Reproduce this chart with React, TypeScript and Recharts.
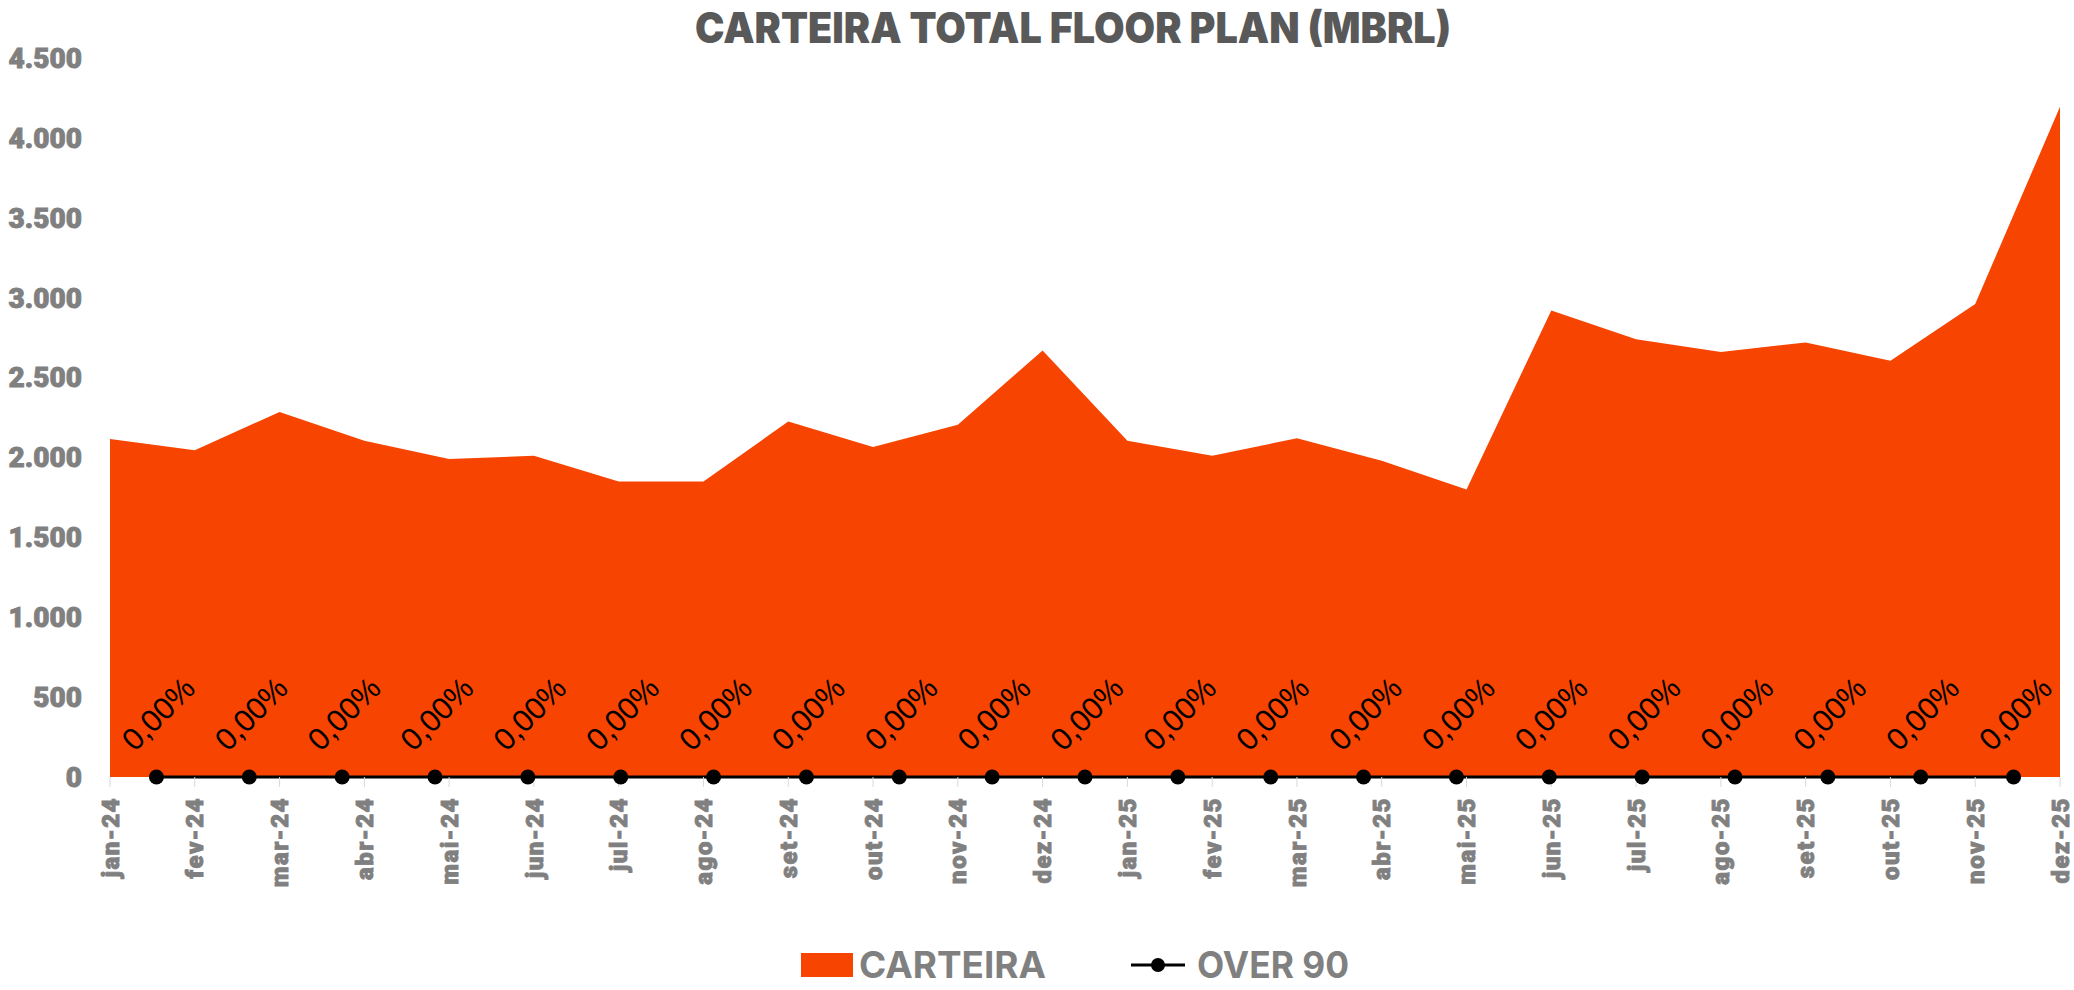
import React from 'react'
import { ComposedChart, Area, Line, XAxis, YAxis, Legend, LabelList } from 'recharts'

const months = [
  'jan-24', 'fev-24', 'mar-24', 'abr-24', 'mai-24', 'jun-24',
  'jul-24', 'ago-24', 'set-24', 'out-24', 'nov-24', 'dez-24',
  'jan-25', 'fev-25', 'mar-25', 'abr-25', 'mai-25', 'jun-25',
  'jul-25', 'ago-25', 'set-25', 'out-25', 'nov-25', 'dez-25',
]

const carteira = [
  2115, 2045, 2285, 2105, 1990, 2010,
  1850, 1850, 2225, 2065, 2205, 2670,
  2105, 2010, 2120, 1980, 1800, 2920,
  2740, 2660, 2720, 2605, 2960, 4195,
]

// over 90 only has 21 points, plotted on its own (hidden) axis
const over90 = [0, 0, 0, 0, 0, 0, 0, 0, 0, 0, 0, 0, 0, 0, 0, 0, 0, 0, 0, 0, 0]

const yTicks = [0, 500, 1000, 1500, 2000, 2500, 3000, 3500, 4000, 4500]

const ORANGE = '#F74401'
const GREY = '#808080'

const areaData = months.map((m, i) => ({ month: m, carteira: carteira[i] }))
const overData = over90.map((v, i) => ({ idx: i, over90: v }))

function formatThousands(v: number): string {
  return String(v).replace(/\B(?=(\d{3})+(?!\d))/g, '.')
}

function formatPct(v: number): string {
  return v.toFixed(2).replace('.', ',') + '%'
}

function MonthTick(props: any) {
  const { x, y, payload } = props
  return (
    <text
      x={x}
      y={y}
      transform={`rotate(-90, ${x}, ${y})`}
      textAnchor="end"
      dy="0.36em"
      fill={GREY}
      stroke={GREY}
      strokeWidth={0.9}
      fontFamily="Roboto, sans-serif"
      fontWeight={900}
      fontSize={24}
      letterSpacing={1.5}
    >
      {payload.value}
    </text>
  )
}

function PctLabel(props: any) {
  const x = props.x ?? props.viewBox?.x
  const y = props.y ?? props.viewBox?.y
  const cx = x + 2
  const cy = y - 63
  return (
    <text
      x={cx}
      y={cy}
      transform={`rotate(-45, ${cx}, ${cy})`}
      textAnchor="middle"
      dominantBaseline="central"
      fill="#000"
      fontFamily="'Liberation Sans', Arial, sans-serif"
      fontSize={31}
    >
      {formatPct(Number(props.value))}
    </text>
  )
}

function LegendContent(props: any) {
  const { payload = [] } = props
  return (
    <div style={{ display: 'flex', alignItems: 'center' }}>
      {payload.map((entry: any, i: number) => {
        const isArea = entry.type === 'square'
        const w = isArea ? 187 : 152
        return (
          <div key={i} style={{ display: 'flex', alignItems: 'center', marginRight: isArea ? 81 : 0 }}>
            {isArea ? (
              <svg width={52} height={24} style={{ marginRight: 6 }}>
                <rect x={0} y={0} width={52} height={24} fill={ORANGE} />
              </svg>
            ) : (
              <svg width={54} height={24} style={{ marginRight: 12 }}>
                <line x1={0} y1={12} x2={54} y2={12} stroke="#000" strokeWidth={3} />
                <circle cx={27} cy={12} r={7} fill="#000" />
              </svg>
            )}
            <svg width={w + 4} height={46} style={{ overflow: 'visible' }}>
              <text
                x={0}
                y={36}
                textLength={w}
                lengthAdjust="spacingAndGlyphs"
                fill={GREY}
                fontFamily="Inter, Roboto, sans-serif"
                fontWeight={700}
                fontSize={37}
              >
                {entry.value}
              </text>
            </svg>
          </div>
        )
      })}
    </div>
  )
}

export default function App() {
  return (
    <div style={{ position: 'relative', width: 2074, height: 990, background: '#fff' }}>
      <style>{'body{margin:0}'}</style>
      <svg width={2074} height={60} style={{ position: 'absolute', left: 0, top: 0, zIndex: 2 }}>
        <text
          x={1073}
          y={43}
          textAnchor="middle"
          textLength={756}
          lengthAdjust="spacingAndGlyphs"
          fill="#595959"
          fontFamily="Inter, Roboto, sans-serif"
          fontWeight={900}
          fontSize={42}
        >
          CARTEIRA TOTAL FLOOR PLAN (MBRL)
        </text>
      </svg>
      <ComposedChart
        width={2074}
        height={990}
        data={areaData}
        margin={{ top: 58, right: 14, bottom: 83, left: 0 }}
      >
        <XAxis
          xAxisId="main"
          dataKey="month"
          interval={0}
          height={130}
          tick={<MonthTick />}
          tickSize={10}
          tickMargin={10}
          tickLine={{ stroke: '#d9d9d9' }}
          axisLine={false}
        />
        <XAxis xAxisId="over" dataKey="idx" type="number" domain={[-0.5, 20.5]} hide />
        <YAxis
          domain={[0, 4500]}
          ticks={yTicks}
          width={110}
          axisLine={false}
          tickLine={false}
          tickSize={0}
          tickMargin={28}
          tickFormatter={formatThousands}
          tick={{ fill: GREY, stroke: GREY, strokeWidth: 0.9, fontSize: 28, fontWeight: 900, fontFamily: 'Roboto, sans-serif' }}
        />
        <Area
          xAxisId="main"
          type="linear"
          dataKey="carteira"
          name="CARTEIRA"
          fill={ORANGE}
          fillOpacity={1}
          stroke="none"
          legendType="square"
          isAnimationActive={false}
        />
        <Line
          xAxisId="over"
          data={overData}
          type="linear"
          dataKey="over90"
          name="OVER 90"
          stroke="#000"
          strokeWidth={3}
          dot={{ r: 7.5, fill: '#000', stroke: 'none' }}
          legendType="circle"
          isAnimationActive={false}
        >
          <LabelList dataKey="over90" content={<PctLabel />} />
        </Line>
        <Legend
          layout="horizontal"
          verticalAlign="middle"
          align="center"
          content={<LegendContent />}
          wrapperStyle={{ left: 801, top: 942, width: 700, height: 46 }}
        />
      </ComposedChart>
    </div>
  )
}
